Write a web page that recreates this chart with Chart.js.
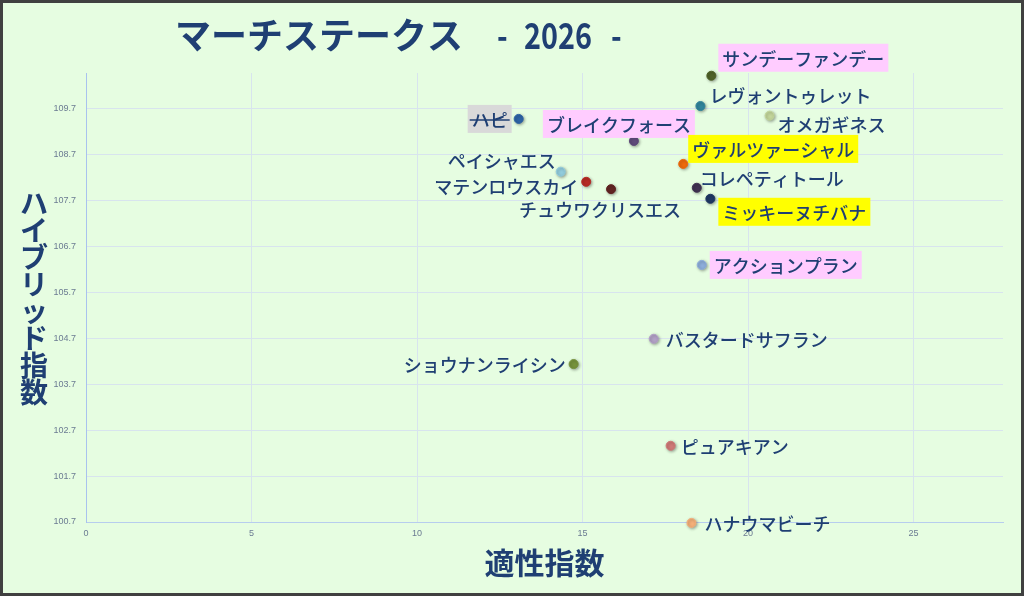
<!DOCTYPE html>
<html>
<head>
<meta charset="utf-8">
<script src="https://cdn.jsdelivr.net/npm/chart.js@4/dist/chart.umd.min.js"></script>
<style>
  html, body { margin: 0; padding: 0; background: #e6fde1; }
  canvas { display: block; }
</style>
</head>
<body>
<canvas id="chart" width="1024" height="596"></canvas>
<script>
const titleText = 'マーチステークス';
const titleYear = ['-', '2026', '-'];
const xTitle = '適性指数';
const yTitle = 'ハイブリッド指数';

const horses = [
  'サンデーファンデー', 'レヴォントゥレット', 'オメガギネス', 'ハピ',
  'ブレイクフォース', 'ヴァルツァーシャル', 'ペイシャエス', 'マテンロウスカイ',
  'チュウワクリスエス', 'コレペティトール', 'ミッキーヌチバナ', 'アクションプラン',
  'バスタードサフラン', 'ショウナンライシン', 'ピュアキアン', 'ハナウマビーチ'
];
const tekisei = [18.89, 18.56, 20.65, 13.07, 16.55, 18.04, 14.34, 15.11, 15.86, 18.45, 18.86, 18.6, 17.15, 14.73, 17.66, 18.29];
const hybrid = [110.42, 109.76, 109.55, 109.48, 109.0, 108.5, 108.33, 108.11, 107.95, 107.98, 107.74, 106.3, 104.69, 104.14, 102.36, 100.68];

const xTicks = [0, 5, 10, 15, 20, 25];
const yTicks = [100.7, 101.7, 102.7, 103.7, 104.7, 105.7, 106.7, 107.7, 108.7, 109.7];

// styles
const pointColors = [
  '#4f6228', '#31859c', '#c3d69b', '#2e64a6', '#604a7b', '#ef6a0c', '#93cddd', '#b72a24',
  '#632523', '#403151', '#1f3864', '#8eaedb', '#b3a2c7', '#77933c', '#d07a78', '#f5b07a'
];
// [dx, dy, align, box colour, strike]
const labelPlace = [
  [11, -18, 'left', '#ffccff'],
  [9, -11, 'left'],
  [8, 8, 'left'],
  [-11, 0, 'right', '#d9d9d9', true],
  [57, -17, 'right', '#ffccff'],
  [9, -15, 'left', '#ffff00'],
  [-5, -12, 'right'],
  [-8, 4, 'right'],
  [-11, 20, 'center'],
  [3, -10, 'left'],
  [12, 13, 'left', '#ffff00'],
  [12, 0, 'left', '#ffccff'],
  [12, 0, 'left'],
  [-8, 0, 'right'],
  [10, 0, 'left'],
  [13, 0, 'left']
];

const navy = '#1f3f73';
const jpFont = '"Noto Sans CJK JP", "Noto Sans", sans-serif';

const decorPlugin = {
  id: 'decor',
  beforeDraw(chart) {
    const ctx = chart.ctx;
    ctx.save();
    ctx.fillStyle = '#e6fde1';
    ctx.fillRect(0, 0, chart.width, chart.height);
    ctx.restore();
  },
  beforeDatasetsDraw(chart) {
    const ctx = chart.ctx;
    ctx.save();
    ctx.shadowColor = 'rgba(0,0,0,0.35)';
    ctx.shadowBlur = 3;
    ctx.shadowOffsetX = 1;
    ctx.shadowOffsetY = 1;
  },
  afterDatasetsDraw(chart) {
    const ctx = chart.ctx;
    ctx.restore();
    const meta = chart.getDatasetMeta(0);
    ctx.save();
    ctx.font = '500 18px ' + jpFont;
    ctx.textBaseline = 'middle';
    meta.data.forEach(function(pt, i) {
      const p = labelPlace[i];
      const text = horses[i];
      const w = ctx.measureText(text).width;
      let x = pt.x + p[0];
      if (p[2] === 'right') x -= w;
      if (p[2] === 'center') x -= w / 2;
      const y = pt.y + p[1];
      if (p[3]) {
        ctx.fillStyle = p[3];
        ctx.fillRect(x - 4, y - 14, w + 8, 28);
      }
      ctx.fillStyle = navy;
      ctx.textAlign = 'left';
      ctx.fillText(text, x, y + 1);
      if (p[4]) {
        ctx.strokeStyle = navy;
        ctx.lineWidth = 1.5;
        ctx.beginPath();
        ctx.moveTo(x - 2, y + 1);
        ctx.lineTo(x + w + 2, y + 1);
        ctx.stroke();
      }
    });
    ctx.restore();
  },
  afterDraw(chart) {
    const ctx = chart.ctx;
    const area = chart.chartArea;
    ctx.save();
    ctx.fillStyle = navy;
    ctx.textBaseline = 'middle';
    // title
    ctx.font = 'bold 36px ' + jpFont;
    ctx.textAlign = 'left';
    ctx.fillText(titleText, 175, 35);
    [497, 524, 611].forEach(function(x, i) {
      ctx.save();
      ctx.translate(x, 35);
      ctx.scale(0.8, 1);
      ctx.fillText(titleYear[i], 0, 0);
      ctx.restore();
    });
    // x axis title
    ctx.font = 'bold 30px ' + jpFont;
    ctx.textAlign = 'center';
    ctx.fillText(xTitle, (area.left + area.right) / 2, 563);
    // y axis title, stacked
    ctx.font = 'bold 28px ' + jpFont;
    const chars = Array.from(yTitle);
    chars.forEach(function(c, i) {
      ctx.fillText(c, 34, 203 + i * 27);
    });
    // frame
    ctx.strokeStyle = '#404040';
    ctx.lineWidth = 3;
    ctx.strokeRect(1.5, 1.5, chart.width - 3, chart.height - 3);
    ctx.restore();
  }
};

const ctx = document.getElementById('chart').getContext('2d');
new Chart(ctx, {
  type: 'scatter',
  data: {
    datasets: [{
      data: horses.map(function(h, i) { return { x: tekisei[i], y: hybrid[i] }; }),
      pointBackgroundColor: pointColors,
      pointBorderColor: pointColors,
      pointRadius: 4.5,
      pointHoverRadius: 4.5,
      clip: false
    }]
  },
  options: {
    responsive: false,
    animation: false,
    devicePixelRatio: 1,
    layout: { padding: { left: 0, top: 73, right: 21, bottom: 0 } },
    plugins: {
      legend: { display: false },
      tooltip: { enabled: false }
    },
    scales: {
      x: {
        type: 'linear',
        min: 0,
        max: 27.7,
        afterBuildTicks: function(scale) { scale.ticks = xTicks.map(function(v) { return { value: v }; }); },
        afterFit: function(scale) { scale.height = 74; },
        grid: { color: '#d8e4ee', drawTicks: false },
        border: { color: '#b7cdee' },
        ticks: { color: '#6b7b92', font: { size: 9, family: 'Liberation Sans' }, padding: 6 }
      },
      y: {
        type: 'linear',
        min: 100.7,
        max: 110.48,
        afterBuildTicks: function(scale) { scale.ticks = yTicks.map(function(v) { return { value: v }; }); },
        afterFit: function(scale) { scale.width = 86; },
        grid: { color: '#d8e4ee', drawTicks: false },
        border: { color: '#a9c2ee' },
        ticks: {
          color: '#6b7b92',
          font: { size: 9, family: 'Liberation Sans' },
          padding: 10,
          callback: function(v) { return v.toFixed(1); }
        }
      }
    }
  },
  plugins: [decorPlugin]
});
</script>
</body>
</html>
